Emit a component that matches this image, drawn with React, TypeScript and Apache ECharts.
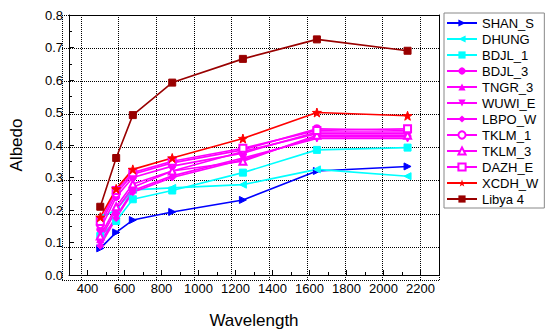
import React, { useEffect, useRef } from "react";
import * as echarts from "echarts";

const wavelengths = [469, 555, 645, 858, 1240, 1640, 2130];

const seriesNames = [
  "SHAN_S", "DHUNG", "BDJL_1", "BDJL_3", "TNGR_3", "WUWI_E",
  "LBPO_W", "TKLM_1", "TKLM_3", "DAZH_E", "XCDH_W", "Libya 4",
];

const shanS = [0.082, 0.131, 0.169, 0.194, 0.231, 0.32, 0.334];
const dhung = [0.176, 0.2, 0.262, 0.268, 0.278, 0.325, 0.304];
const bdjl1 = [0.12, 0.166, 0.233, 0.26, 0.315, 0.385, 0.392];
const bdjl3 = [0.14, 0.24, 0.3, 0.335, 0.375, 0.44, 0.44];
const tngr3 = [0.11, 0.2, 0.27, 0.32, 0.38, 0.435, 0.435];
const wuwiE = [0.1, 0.18, 0.26, 0.305, 0.36, 0.42, 0.42];
const lbpoW = [0.09, 0.175, 0.255, 0.3, 0.355, 0.425, 0.425];
const tklm1 = [0.155, 0.25, 0.31, 0.345, 0.385, 0.45, 0.445];
const tklm3 = [0.12, 0.21, 0.28, 0.32, 0.35, 0.43, 0.43];
const dazhE = [0.165, 0.26, 0.315, 0.35, 0.39, 0.445, 0.45];
const xcdhW = [0.178, 0.265, 0.325, 0.36, 0.42, 0.5, 0.49];
const libya4 = [0.21, 0.36, 0.492, 0.592, 0.665, 0.725, 0.69];

const seriesValues = [shanS, dhung, bdjl1, bdjl3, tngr3, wuwiE, lbpoW, tklm1, tklm3, dazhE, xcdhW, libya4];

const STAR =
  "path://M0,-10 L2.35,-3.24 L9.51,-3.09 L3.8,1.24 L5.88,8.09 L0,4 L-5.88,8.09 L-3.8,1.24 L-9.51,-3.09 L-2.35,-3.24 Z";

const styles = [
  { color: "#0000FF", symbol: "triangle", rotate: -90 },
  { color: "#00FFFF", symbol: "triangle", rotate: 90 },
  { color: "#00FFFF", symbol: "rect", rotate: 0 },
  { color: "#FF00FF", symbol: "circle", rotate: 0 },
  { color: "#FF00FF", symbol: "triangle", rotate: 0 },
  { color: "#FF00FF", symbol: "triangle", rotate: 180 },
  { color: "#FF00FF", symbol: "diamond", rotate: 0 },
  { color: "#FF00FF", symbol: "emptyCircle", rotate: 0 },
  { color: "#FF00FF", symbol: "emptyTriangle", rotate: 0 },
  { color: "#FF00FF", symbol: "emptyRect", rotate: 0 },
  { color: "#FF0000", symbol: STAR, rotate: 0 },
  { color: "#990000", symbol: "rect", rotate: 0 },
];

export default function App() {
  const ref = useRef<HTMLDivElement>(null);
  useEffect(() => {
    if (!ref.current) return;
    const chart = echarts.init(ref.current, null, { renderer: "svg" });
    const font = "'Liberation Sans', Arial, sans-serif";

    const lineSeries: any[] = seriesNames.map((name, i) => ({
      type: "line",
      name,
      xAxisIndex: 0,
      yAxisIndex: 0,
      data: wavelengths.map((w, j) => [w, seriesValues[i][j]]),
      symbol: styles[i].symbol,
      symbolRotate: styles[i].rotate,
      symbolSize: styles[i].symbol === STAR ? 9 : 7,
      showAllSymbol: true,
      lineStyle: { color: styles[i].color, width: 1.6 },
      itemStyle: { color: styles[i].color, borderColor: styles[i].color },
    }));

    chart.setOption({
      animation: false,
      grid: [
        { left: 62, top: 15, right: 111, bottom: 54 },
        { left: 62, top: 15, right: 111, bottom: 54 },
      ],
      legend: {
        orient: "vertical",
        left: 444,
        top: 13,
        data: seriesNames,
        itemWidth: 30,
        itemHeight: 9,
        itemGap: 0,
        padding: [2, 6, 1, 2],
        borderColor: "#888",
        borderWidth: 1,
        textStyle: { fontFamily: font, fontSize: 13, color: "#000", lineHeight: 16 },
      },
      xAxis: [
        {
          type: "value",
          gridIndex: 0,
          min: 300,
          max: 2300,
          splitNumber: 10,
          name: "Wavelength",
          nameLocation: "middle",
          nameGap: 37,
          nameTextStyle: { fontFamily: font, fontSize: 17, color: "#000" },
          axisLine: { show: true, lineStyle: { color: "#000", width: 1 } },
          axisTick: { show: true, inside: true, length: 5, lineStyle: { color: "#000" } },
          minorTick: { show: true, splitNumber: 2, length: 3, lineStyle: { color: "#000" } },
          axisLabel: {
            showMinLabel: false,
            showMaxLabel: false,
            fontFamily: font,
            fontSize: 13,
            color: "#000",
            margin: 7,
            formatter: (v: number) => String(v),
          },
          splitLine: { show: false },
        },
        {
          type: "value",
          gridIndex: 0,
          position: "top",
          min: 300,
          max: 2300,
          axisLine: { show: true, onZero: false, lineStyle: { color: "#000", width: 1 } },
          axisTick: { show: false },
          axisLabel: { show: false },
          splitLine: { show: false },
        },
        {
          type: "value",
          gridIndex: 1,
          min: 300,
          max: 2300,
          splitNumber: 10,
          axisLine: { show: false },
          axisTick: { show: false },
          axisLabel: { show: false },
          splitLine: { show: true, lineStyle: { color: "#000", type: "dotted", width: 1 } },
        },
      ],
      yAxis: [
        {
          type: "value",
          gridIndex: 0,
          min: 0,
          max: 0.8,
          interval: 0.1,
          name: "Albedo",
          nameLocation: "middle",
          nameGap: 44,
          nameTextStyle: { fontFamily: font, fontSize: 17, color: "#000" },
          axisLine: { show: true, lineStyle: { color: "#000", width: 1 } },
          axisTick: { show: true, inside: true, length: 5, lineStyle: { color: "#000" } },
          minorTick: { show: true, splitNumber: 2, length: 3, lineStyle: { color: "#000" } },
          axisLabel: { fontFamily: font, fontSize: 13, color: "#000", margin: 6, formatter: (v: number) => v.toFixed(1) },
          splitLine: { show: false },
        },
        {
          type: "value",
          gridIndex: 0,
          position: "right",
          min: 0,
          max: 0.8,
          axisLine: { show: true, onZero: false, lineStyle: { color: "#000", width: 1 } },
          axisTick: { show: false },
          axisLabel: { show: false },
          splitLine: { show: false },
        },
        {
          type: "value",
          gridIndex: 1,
          min: 0,
          max: 0.8,
          interval: 0.1,
          axisLine: { show: false },
          axisTick: { show: false },
          axisLabel: { show: false },
          splitLine: { show: true, lineStyle: { color: "#000", type: "dotted", width: 1 } },
        },
      ],
      series: lineSeries,
    });
    return () => chart.dispose();
  }, []);
  return <div ref={ref} style={{ position: "absolute", left: 0, top: 0, width: 550, height: 334 }} />;
}
